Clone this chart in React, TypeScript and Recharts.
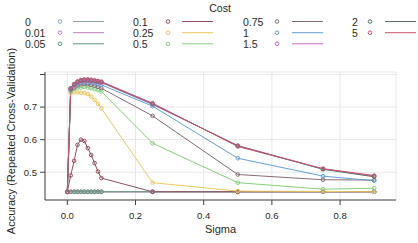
import { LineChart, Line, XAxis, YAxis, CartesianGrid, Legend } from "recharts";

// sigma grid used in the tuning run
const sigma = [0, 0.01, 0.02, 0.03, 0.04, 0.05, 0.06, 0.07, 0.08, 0.09, 0.1, 0.25, 0.5, 0.75, 0.9];

const costLabels = ["0", "0.01", "0.05", "0.1", "0.25", "0.5", "0.75", "1", "1.5", "2", "5"];

// accuracy per cost, one value per sigma
const acc0 = [0.44, 0.44, 0.44, 0.44, 0.44, 0.44, 0.44, 0.44, 0.44, 0.44, 0.44, 0.44, 0.44, 0.44, 0.44];
const acc001 = [0.44, 0.44, 0.44, 0.44, 0.44, 0.44, 0.44, 0.44, 0.44, 0.44, 0.44, 0.44, 0.44, 0.44, 0.44];
const acc005 = [0.44, 0.44, 0.44, 0.44, 0.44, 0.44, 0.44, 0.44, 0.44, 0.44, 0.44, 0.44, 0.44, 0.44, 0.44];
const acc01 = [0.44, 0.49, 0.535, 0.584, 0.6, 0.596, 0.574, 0.553, 0.528, 0.502, 0.482, 0.44, 0.44, 0.44, 0.44];
const acc025 = [0.44, 0.742, 0.746, 0.745, 0.744, 0.743, 0.74, 0.732, 0.722, 0.71, 0.696, 0.468, 0.442, 0.441, 0.44];
const acc05 = [0.44, 0.748, 0.755, 0.758, 0.76, 0.762, 0.76, 0.758, 0.755, 0.752, 0.748, 0.589, 0.468, 0.448, 0.451];
const acc075 = [0.44, 0.752, 0.76, 0.766, 0.77, 0.771, 0.77, 0.768, 0.765, 0.762, 0.758, 0.673, 0.493, 0.477, 0.476];
const acc1 = [0.44, 0.754, 0.764, 0.77, 0.775, 0.776, 0.776, 0.775, 0.773, 0.771, 0.768, 0.703, 0.543, 0.488, 0.474];
const acc15 = [0.44, 0.756, 0.767, 0.775, 0.779, 0.781, 0.781, 0.78, 0.779, 0.777, 0.775, 0.708, 0.582, 0.51, 0.488];
const acc2 = [0.44, 0.757, 0.769, 0.777, 0.781, 0.783, 0.783, 0.782, 0.781, 0.779, 0.777, 0.71, 0.581, 0.509, 0.486];
const acc5 = [0.44, 0.758, 0.771, 0.779, 0.783, 0.785, 0.785, 0.784, 0.782, 0.78, 0.778, 0.712, 0.579, 0.511, 0.49];

const xTicks = [0, 0.2, 0.4, 0.6, 0.8];
const yTicks = [0.5, 0.6, 0.7, 0.8];

const colors = [
  "#8fa3ab", "#c47fbb", "#5e9a7c", "#93505f", "#f0c860", "#88d07c",
  "#876c72", "#62a2d6", "#c56ac5", "#5b6e60", "#c9536f",
];

const series = [acc0, acc001, acc005, acc01, acc025, acc05, acc075, acc1, acc15, acc2, acc5];

const data = sigma.map((s, i) => {
  const row: Record<string, number> = { sigma: s };
  series.forEach((vals, k) => {
    row["c" + k] = vals[i];
  });
  return row;
});

const FONT = "'Liberation Sans', Arial, sans-serif";
const INK = "#2a2a2a";

// legend grid: label column, point column, line column
const legendCols = [
  { text: 25, pt: 60, line: 73 },
  { text: 133, pt: 168, line: 182 },
  { text: 243, pt: 277, line: 292 },
  { text: 352, pt: 370, line: 385 },
];
const legendRows = [21.5, 32.7, 43.8];

function CostLegend() {
  return (
    <svg width={418} height={52} style={{ display: "block" }}>
      <text x={220} y={8} textAnchor="middle" dominantBaseline="central" fontSize={10.5} fontFamily={FONT} fill={INK}>
        Cost
      </text>
      {costLabels.map((lab, i) => {
        const col = legendCols[Math.floor(i / 3)];
        const y = legendRows[i % 3];
        return (
          <g key={lab}>
            <text x={col.text} y={y} dominantBaseline="central" fontSize={10.5} fontFamily={FONT} fill={INK}>
              {lab}
            </text>
            <circle cx={col.pt} cy={y} r={1.8} fill="none" stroke={colors[i]} strokeWidth={1} />
            <line x1={col.line} x2={col.line + 31} y1={y} y2={y} stroke={colors[i]} strokeWidth={1} />
          </g>
        );
      })}
    </svg>
  );
}

function YTitle(props: any) {
  const vb = props.viewBox;
  const cx = vb.x + 11;
  const cy = vb.y + vb.height / 2 + 5;
  return (
    <text
      x={cx}
      y={cy}
      transform={`rotate(-90, ${cx}, ${cy})`}
      textAnchor="middle"
      dominantBaseline="central"
      fontSize={11}
      fontFamily={FONT}
      fill={INK}
    >
      Accuracy (Repeated Cross-Validation)
    </text>
  );
}

export default function App() {
  const tickStyle = { fontSize: 9.5, fontFamily: FONT, fill: INK };
  return (
    <div style={{ position: "absolute", left: 0, top: 0, width: 418, height: 243, background: "#fff" }}>
      <LineChart width={418} height={243} data={data} margin={{ top: 72, right: 22, left: 0, bottom: 0 }}>
        <CartesianGrid stroke="#e8e8e8" strokeWidth={1} />
        <XAxis
          dataKey="sigma"
          type="number"
          domain={[-0.0654, 0.964]}
          ticks={xTicks}
          interval={0}
          allowDataOverflow
          height={43}
          tickSize={5}
          tickMargin={7}
          stroke="#444"
          tick={tickStyle}
          tickFormatter={(v: number) => v.toFixed(1)}
          label={{ value: "Sigma", position: "insideBottom", offset: 10, fontSize: 11, fontFamily: FONT, fill: INK }}
        />
        <XAxis
          xAxisId="top"
          dataKey="sigma"
          type="number"
          orientation="top"
          domain={[-0.0654, 0.964]}
          ticks={xTicks}
          interval={0}
          allowDataOverflow
          height={0}
          tickSize={5}
          stroke="#444"
          tickFormatter={() => ""}
        />
        <YAxis
          type="number"
          domain={[0.4148, 0.8077]}
          ticks={yTicks}
          interval={0}
          allowDataOverflow
          width={45}
          tickSize={5}
          tickMargin={3}
          stroke="#444"
          tick={tickStyle}
          tickFormatter={(v: number) => (v === 0.8 ? "" : v.toFixed(1))}
          label={{ content: YTitle }}
        />
        <YAxis
          yAxisId="right"
          type="number"
          orientation="right"
          domain={[0.4148, 0.8077]}
          ticks={yTicks}
          interval={0}
          allowDataOverflow
          width={0}
          tickSize={5}
          stroke="#444"
          tickFormatter={() => ""}
        />
        <Legend
          layout="vertical"
          align="center"
          verticalAlign="middle"
          wrapperStyle={{ position: "absolute", top: 0, left: 0, width: 418, height: 52 }}
          content={() => <CostLegend />}
        />
        {costLabels.map((lab, k) => (
          <Line
            key={lab}
            dataKey={"c" + k}
            name={lab}
            type="linear"
            stroke={colors[k]}
            strokeWidth={1}
            dot={{ r: 1.8, stroke: colors[k], strokeWidth: 1, fill: "none" }}
            activeDot={false}
            isAnimationActive={false}
          />
        ))}
      </LineChart>
    </div>
  );
}
